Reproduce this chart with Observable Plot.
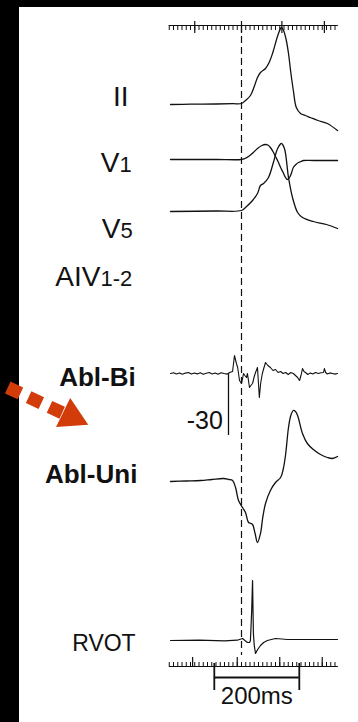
<!DOCTYPE html>
<html><head><meta charset="utf-8">
<script src="https://cdn.jsdelivr.net/npm/d3@7"></script>
<script src="https://cdn.jsdelivr.net/npm/@observablehq/plot@0.6"></script>
<style>
html,body{margin:0;padding:0;background:#fff;}
#chart{width:358px;height:722px;position:relative;overflow:hidden;
  background:linear-gradient(#000,#000) 0 0/19px 100% no-repeat,
             linear-gradient(#000,#000) 0 0/100% 7px no-repeat, #fff;}
#chart svg{display:block;}
</style></head><body><div id="chart"></div>
<script>
// ---- data: time (ms, 0 = dashed reference line) and amplitude (arbitrary units, up positive)
const tII = [-167,-120,-60,-20,0,9.4,21,30,37.6,44.7,56.5,65,73,87,94,99,105,110.6,116,122,129,139,150,162,180,202,226];
const aII = [0,0.3,0.5,0.8,1,4,9,18,27,32,36,42,51,71,77,74,65,51,32,14,-3,-9,-11,-13,-16,-19,-26];

const tV1 = [-167,-60,0,8,16.5,28,37.6,48,56.5,62,68,74,80,86,92,98,103.5,108,113,118,122,128,134,140,146,170,200,226];
const aV1 = [0,0,0,1,3,7,11,14,15,14.5,12,8,3,-2,-8,-13,-18,-20,-18,-13,-8,-5,-3,-2,-1,-1,-1,-1];

const tV5 = [-167,-60,0,9.4,26,37.6,44.7,52,63.5,75,85,94,101,110.6,120,132,143.5,169,200,226];
const aV5 = [0,0.5,1,4,11,18,26,28,34,49,63,68,63,34,14,-1,-6,-10,-13,-17];

const tBi = [-167,-160,-153,-146,-139,-132,-125,-118,-111,-104,-97,-90,-83,-76,-69,-62,-55,-48,-41,-34,-28,-21,-16.5,-12,-9,-4.7,0,3,4.7,8,11.8,14,18.8,22,26,30,33,37.6,42,45,49,53,56.5,62,68,74,80,86,92,98,104,110,116,122,127,132,136.5,140,143.5,147,150.6,156,162,168,174,181,187,193,195,198,202,208,214,220,226];
const aBi = [0,0.8,-0.5,0.6,-0.8,0.4,1,-0.6,0.5,-0.4,0.8,-0.7,0.3,1,-0.5,0.6,-0.8,0.7,0,-0.6,1,2,18,10,6,-7,-10,-4,0,-2,-4,0,-14,-12,-10,-3,1,6,-24,-10,0,6,11,8,6,3,4,1,2,0,1,-1,1,0,-2,-4,-7,-2,5,2,1,-1,0.6,-0.5,1,0,0.7,1,5,1,-0.5,0.6,0,-0.6,0];

const tUni = [-167,-130,-96,-70,-42,-30,-21,-14,-7,2.4,9.4,16.5,22,26,32,37.6,44.7,50,56.5,68,80,92,98,103.5,110.6,116,122,127,132,143.5,155,169,186,202,214,226];
const aUni = [0,0.5,1,2,3,2,1,-6,-19,-26,-31,-41,-42,-43,-52,-61,-52,-36,-22,-9,-1,4,12,26,54,66,71,70,66,48,38,32,27,24,23,25];

const tRV = [-167,-100,-40,-10,2.4,8,14,19,21,24,26,28,30,33,38,44.7,52,61,70,80,95,108,140,180,226];
const aRV = [0,0.4,-0.3,0.3,2,0,-2,-2,0,30,60,7,-5,-13,-9,-5,-2,0,1,2,1.5,1,1,1,1];

const labelMain = ["II","V","V","AIV","Abl-Bi","Abl-Uni","RVOT"];
const labelSub  = ["","1","5","1-2","","",""];
const scaleBarMs = 200;
const scaleBarText = "200ms";
const ampBarText = "-30";
const topMajorMs = [-110,0,95,195];
const bottomMajorMs = [-115,-10,90,190];

// ---- layout (page rows / anchors)
const base = {II:104, V1:159, V5:211, Bi:373, Uni:481, RV:640};
const labelRow = [105,171,237,285,385,482,650];
const labelX   = [-266,-287,-285,-332,-249,-245,-249];
const labelBold= [false,false,false,false,true,true,false];
const labelSize= [28,28,28,28,26,26,23];

const mk = (key,t,a) => t.map((ti,i)=>({t:ti, y:-base[key]+a[i]}));
const II = mk("II",tII,aII), V1 = mk("V1",tV1,aV1), V5 = mk("V5",tV5,aV5);
const Bi = mk("Bi",tBi,aBi), Uni = mk("Uni",tUni,aUni), RV = mk("RV",tRV,aRV);

const minor = d3.range(-170, 230, 10);
const labels = labelMain.map((m,i)=>({main:m, sub:labelSub[i], row:labelRow[i], x:labelX[i], bold:labelBold[i], size:labelSize[i]}));

const font = "Liberation Sans, Arial, Helvetica, sans-serif";
const ink = "#111";
const lineOpt = {x:"t", y:"y", stroke:ink, strokeWidth:1.3};

const arrowPts = [{t:-550,y:-387},{t:-418,y:-413}];
const arrowHead = [{t:-400,y:-416}];

const chart = Plot.plot({
  width:358, height:722, margin:0,
  x:{domain:[-170,230], range:[168.75,338.75], axis:null},
  y:{domain:[-722,0], range:[722,0], axis:null},
  style:{background:"transparent", fontFamily:font},
  marks:[
    // top ruler
    Plot.ruleY([-25], {x1:-170, x2:228, stroke:ink, strokeWidth:1}),
    Plot.ruleX(minor, {x:d=>d, y1:-25, y2:-30, stroke:ink, strokeWidth:1}),
    Plot.ruleX(topMajorMs, {x:d=>d, y1:-21, y2:-33, stroke:ink, strokeWidth:1.2}),
    // bottom ruler
    Plot.ruleY([-666], {x1:-170, x2:228, stroke:ink, strokeWidth:1}),
    Plot.ruleX(minor, {x:d=>d, y1:-662, y2:-666, stroke:ink, strokeWidth:1}),
    Plot.ruleX(bottomMajorMs, {x:d=>d, y1:-657, y2:-666, stroke:ink, strokeWidth:1.2}),
    // dashed reference
    Plot.ruleX([0], {y1:-25, y2:-655, stroke:ink, strokeWidth:1.2, strokeDasharray:"7,4"}),
    // traces
    Plot.line(II, {...lineOpt, curve:"catmull-rom"}),
    Plot.line(V1, {...lineOpt, curve:"catmull-rom"}),
    Plot.line(V5, {...lineOpt, curve:"catmull-rom"}),
    Plot.line(Bi, {...lineOpt, strokeWidth:1.1}),
    Plot.line(Uni, {...lineOpt, curve:"catmull-rom"}),
    Plot.line(RV, {...lineOpt, strokeWidth:1.2}),
    // amplitude bar
    Plot.ruleX([-30.6], {y1:-373, y2:-435, stroke:ink, strokeWidth:1.3}),
    Plot.text([ampBarText], {x:-44, y:-428, text:d=>d, textAnchor:"end", lineAnchor:"bottom", fontSize:25, fill:ink}),
    // 200ms scale bar
    Plot.ruleY([-677], {x1:-64, x2:-64+scaleBarMs, stroke:ink, strokeWidth:1.8}),
    Plot.ruleX([-64,-64+scaleBarMs], {x:d=>d, y1:-663, y2:-690, stroke:ink, strokeWidth:1.8}),
    Plot.text([scaleBarText], {x:-64+scaleBarMs/2, y:-703, text:d=>d, textAnchor:"middle", lineAnchor:"bottom", fontSize:24, fill:ink}),
    // labels
    Plot.text(labels.filter(d=>!d.bold), {x:"x", y:d=>-d.row, text:"main", textAnchor:"end", lineAnchor:"bottom",
      fontSize:d=>d.size, fill:ink}),
    Plot.text(labels.filter(d=>d.bold), {x:"x", y:d=>-d.row, text:"main", textAnchor:"end", lineAnchor:"bottom",
      fontSize:26, fontWeight:"bold", fill:ink}),
    Plot.text(labels.filter(d=>d.sub), {x:"x", y:d=>-d.row, text:"sub", textAnchor:"start", lineAnchor:"bottom",
      fontSize:22, fill:ink}),
    // arrow
    Plot.line(arrowPts, {x:"t", y:"y", stroke:"#d23c0a", strokeWidth:13, strokeDasharray:"14,9", strokeLinecap:"butt"}),
    Plot.dot(arrowHead, {x:"t", y:"y", symbol:"triangle", r:12, fill:"#d23c0a", rotate:116})
  ]
});
document.getElementById("chart").appendChild(chart);
</script>
</body></html>
